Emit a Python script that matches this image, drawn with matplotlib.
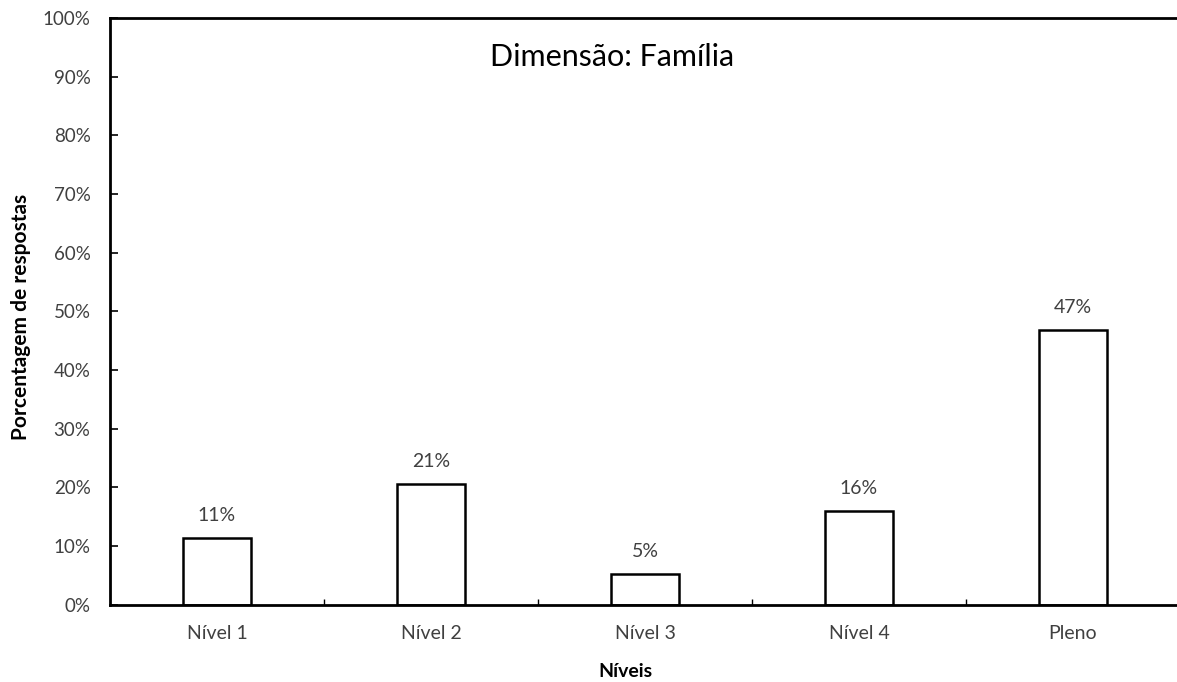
import matplotlib.pyplot as plt
import numpy as np

plt.rcParams['font.family'] = ['Lato', 'DejaVu Sans']

niveis = ["Nível 1", "Nível 2", "Nível 3", "Nível 4", "Pleno"]
percentuais = [11.3, 20.6, 5.2, 15.9, 46.8]
y_ticks = [0, 10, 20, 30, 40, 50, 60, 70, 80, 90, 100]

cor_texto = "#404040"

fig = plt.figure(figsize=(11.77, 6.82), dpi=100)
# area do grafico passa um pouco da borda direita
ax = fig.add_axes([110/1177, 77.5/682, 1070/1177, 586.5/682])

x = np.arange(len(niveis))
barras = ax.bar(x, percentuais, width=0.32, color="white", edgecolor="black", linewidth=1.8)

for xi, v in zip(x, percentuais):
    ax.annotate("%.0f%%" % v, (xi, v), xytext=(0, 10), textcoords="offset points",
                ha="center", va="bottom", fontsize=14, color=cor_texto)

ax.set_xlim(-0.5, len(niveis) - 0.5)
ax.set_ylim(0, 100)

ax.set_yticks(y_ticks)
ax.set_yticklabels(["%d%%" % t for t in y_ticks])
ax.tick_params(axis="y", direction="in", length=6, width=1.2, pad=14,
               labelsize=13.5, labelcolor=cor_texto)

# marcas entre categorias, rotulos no centro
ax.set_xticks(np.arange(0.5, len(niveis) - 0.5, 1))
ax.set_xticklabels([])
ax.set_xticks(x, minor=True)
ax.set_xticklabels(niveis, minor=True)
ax.tick_params(axis="x", which="major", direction="in", length=4, width=1.0)
ax.tick_params(axis="x", which="minor", length=0, pad=15, labelsize=14, labelcolor=cor_texto)

for lado in ["left", "bottom", "top", "right"]:
    ax.spines[lado].set_linewidth(2.0)

ax.set_ylabel("Porcentagem de respostas", fontsize=15, fontweight="bold", color="black")
ax.yaxis.set_label_coords(-0.074, 0.49)
ax.set_xlabel("Níveis", fontsize=14, fontweight="bold", color="black")
ax.xaxis.set_label_coords(0.482, -0.1)

ax.text(0.469, 0.933, "Dimensão: Família", transform=ax.transAxes,
        ha="center", va="center", fontsize=22, color="black")

fig.savefig("out.png", dpi=100)
